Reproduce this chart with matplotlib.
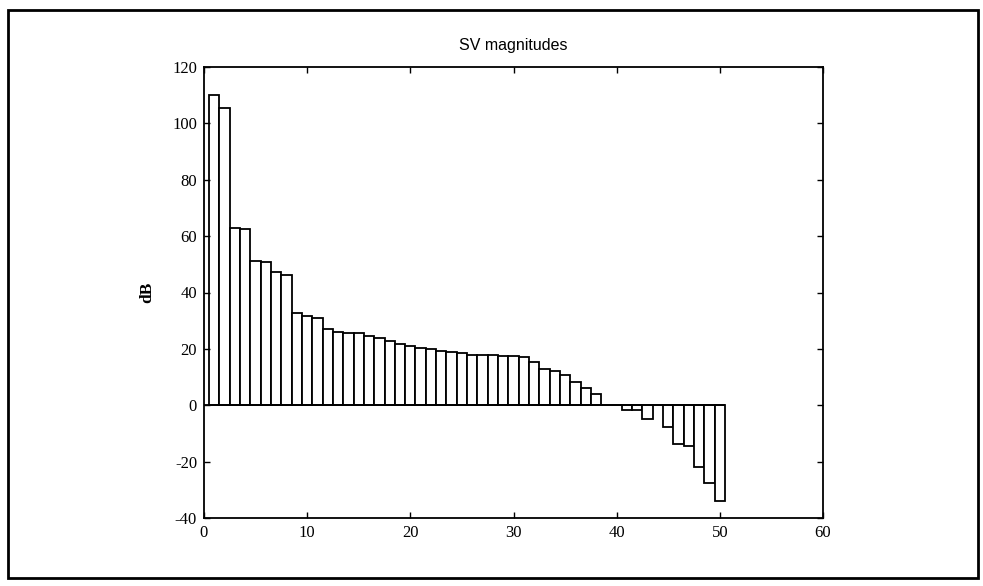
import matplotlib

matplotlib.use("Agg")

import matplotlib.pyplot as plt
from matplotlib.patches import Rectangle
import numpy as np

# singular value magnitudes (dB)
sv_index = np.arange(1, 51)
sv_db = [
    110.0, 105.5, 63.0, 62.5, 51.0, 50.7, 47.4, 46.2, 32.8, 31.6,
    30.8, 27.2, 25.9, 25.7, 25.6, 24.5, 23.9, 22.9, 21.7, 20.9,
    20.2, 19.8, 19.2, 18.8, 18.6, 18.0, 17.8, 17.8, 17.4, 17.4,
    17.1, 15.4, 12.8, 12.0, 10.6, 8.3, 6.2, 4.0, 0.0, 0.0,
    -1.8, -1.8, -5.0, 0.0, -7.6, -13.9, -14.4, -21.9, -27.5, -34.0,
]
x_ticks = [0, 10, 20, 30, 40, 50, 60]
y_ticks = [-40, -20, 0, 20, 40, 60, 80, 100, 120]

plt.rcParams["axes.unicode_minus"] = False

W, H = 983, 586
fig = plt.figure(figsize=(W / 100, H / 100), dpi=100)
ax = fig.add_axes([204 / W, 1 - 518 / H, (823 - 204) / W, (518 - 67) / H])

ax.bar(sv_index, sv_db, width=1.0, color="white", edgecolor="black", linewidth=1.3)
# baseline only runs under the bars
ax.hlines(0, 0, sv_index[-1] + 0.5, color="black", linewidth=1.3)

ax.set_xlim(0, 60)
ax.set_ylim(-40, 120)
ax.set_xticks(x_ticks)
ax.set_yticks(y_ticks)
ax.tick_params(direction="in", top=True, right=True, length=4, width=1,
               labelsize=12, pad=5)
for lab in ax.get_xticklabels() + ax.get_yticklabels():
    lab.set_fontfamily("Liberation Serif")
for side in ax.spines.values():
    side.set_linewidth(1.3)

ax.set_ylabel("dB", fontfamily="Liberation Serif", fontsize=12.5,
              fontweight="bold", labelpad=12)
ax.set_title("SV magnitudes", fontfamily="Liberation Sans", fontsize=11.5, pad=12)

# frame round the whole figure, as in the scan
fig.patches.append(Rectangle((8 / W, 1 - 578 / H), (978 - 8) / W, (578 - 10) / H,
                             transform=fig.transFigure, fill=False,
                             edgecolor="black", linewidth=2.0))

fig.savefig("out.png", dpi=100)
plt.close(fig)
